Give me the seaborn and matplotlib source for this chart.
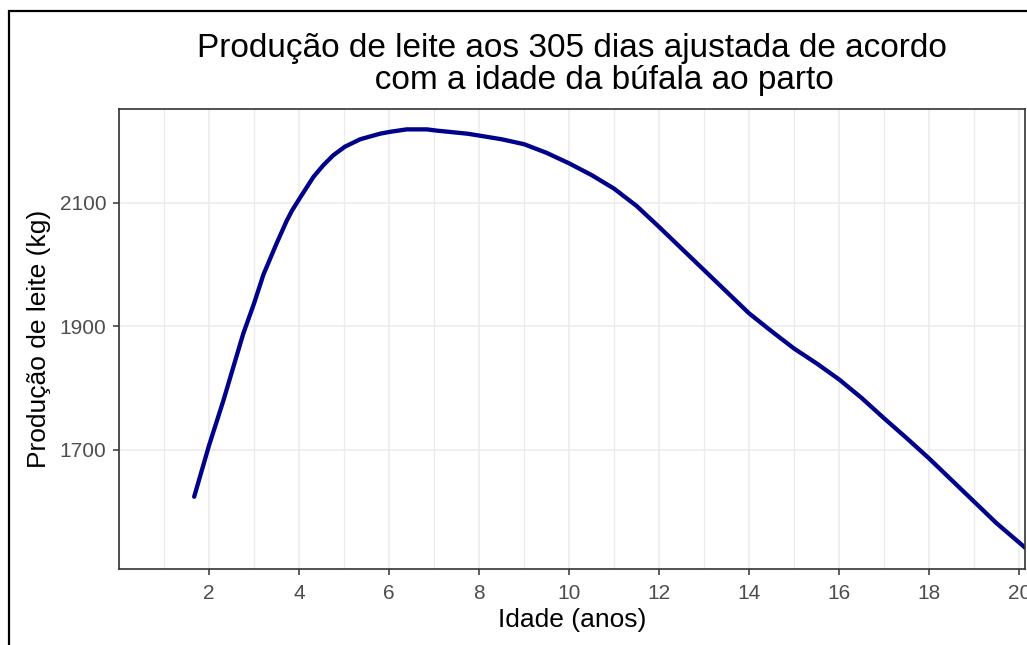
import matplotlib
matplotlib.use('Agg')
import matplotlib.pyplot as plt
import seaborn as sns
import pandas as pd
from matplotlib.ticker import MultipleLocator
from matplotlib.patches import Rectangle

# curve
idade = [1.67, 2.0, 2.32, 2.54, 2.76, 3.0, 3.21, 3.5, 3.72, 3.84, 4.02, 4.32, 4.54,
         4.76, 5.02, 5.36, 5.8, 6.02, 6.39, 6.84, 7.06, 7.74, 8.0, 8.5, 9.0, 9.5,
         10.0, 10.5, 11.0, 11.5, 12.0, 12.5, 13.0, 14.0, 14.5, 15.0, 15.5, 16.0,
         16.5, 17.0, 17.5, 18.0, 18.5, 19.0, 19.5, 20.11, 20.3]
producao = [1624, 1707, 1780, 1834, 1888, 1937, 1984, 2034, 2070, 2087, 2108, 2142,
            2161, 2177, 2191, 2203, 2212, 2215, 2219, 2219, 2217, 2212, 2209, 2203,
            2195, 2181, 2164, 2145, 2123, 2095, 2061, 2026, 1991, 1921, 1892, 1864,
            1840, 1814, 1784, 1751, 1719, 1686, 1651, 1616, 1581, 1543, 1530]
x_ticks = [2, 4, 6, 8, 10, 12, 14, 16, 18, 20]
y_ticks = [1700, 1900, 2100]

titulo = "Produção de leite aos 305 dias ajustada de acordo\n       com a idade da búfala ao parto"

df = pd.DataFrame({'idade': idade, 'producao': producao})

sns.set_style('white')
plt.rcParams['font.family'] = ['Liberation Sans', 'DejaVu Sans']

W, H = 1027, 645
fig = plt.figure(figsize=(W / 100, H / 100), dpi=100)
ax = fig.add_axes([119 / W, (H - 569) / H, (1025 - 119) / W, (569 - 109) / H])

sns.lineplot(data=df, x='idade', y='producao', color='#00008B', linewidth=3.1,
             sort=True, estimator=None, ax=ax)

ax.set_xlim(0, 20.13)
ax.set_ylim(1507, 2252)
ax.set_xticks(x_ticks)
ax.xaxis.set_minor_locator(MultipleLocator(1))
ax.set_yticks(y_ticks)

ax.grid(which='major', color='#EBEBEB', linewidth=1.1)
ax.grid(which='minor', axis='x', color='#EBEBEB', linewidth=0.9)
ax.set_axisbelow(True)

for s in ax.spines.values():
    s.set_color('#333333')
    s.set_linewidth(1.2)

ax.tick_params(axis='both', which='major', direction='out', length=4, width=1.1,
               color='#333333', labelcolor='#4D4D4D', labelsize=15, bottom=True, left=True)
ax.tick_params(axis='x', pad=6.5)
ax.tick_params(axis='y', pad=5)
ax.tick_params(which='minor', length=0)

ax.set_xlabel('Idade (anos)', fontsize=19, color='black', labelpad=4)
ax.set_ylabel('Produção de leite (kg)', fontsize=19, color='black', labelpad=6)

fig.text(572 / W, (H - 96) / H, titulo, ha='center', va='bottom', fontsize=24,
         color='black', multialignment='center', linespacing=1.05)

# outer frame of the figure (cut off at right and bottom in the reference)
fig.patches.append(Rectangle((9 / W, -0.1), 1.2, (H - 11) / H + 0.1, transform=fig.transFigure,
                             fill=False, edgecolor='black', linewidth=1.6))

fig.savefig('out.png', dpi=100)
